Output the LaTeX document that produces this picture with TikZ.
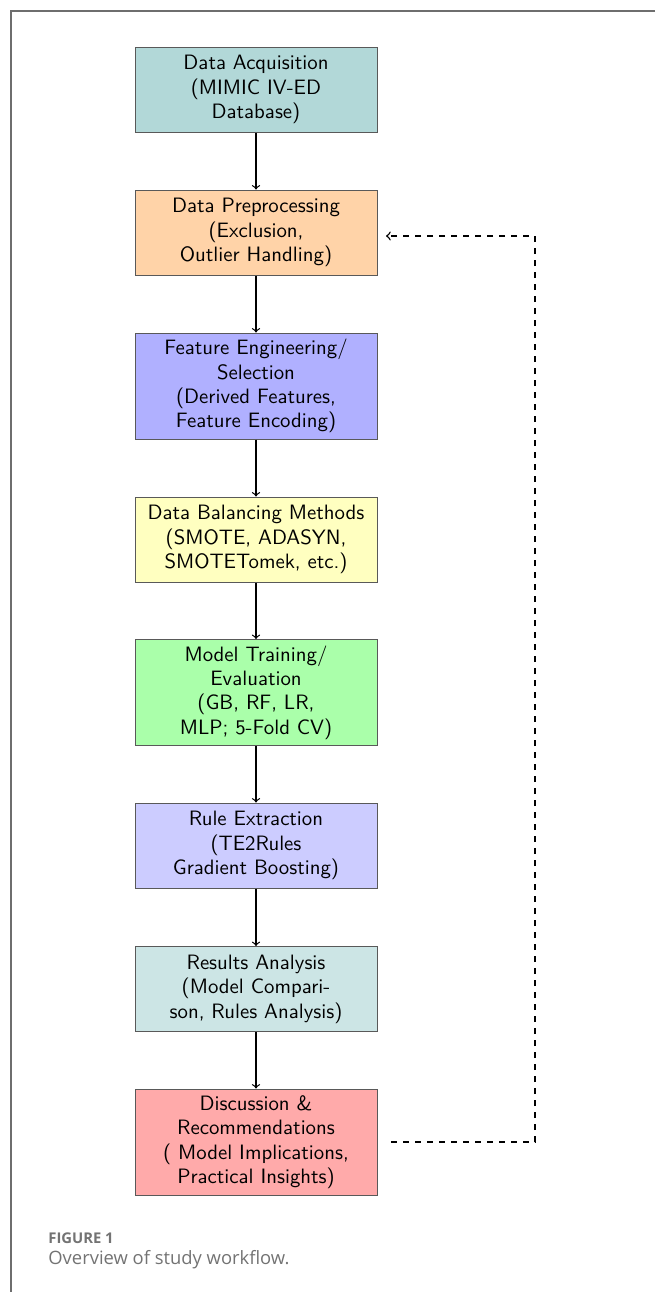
\documentclass[tikz,border=0pt]{standalone}
\usepackage{fontspec}
\usepackage{tikz}
\newfontfamily\capfont{Open Sans}
\definecolor{acqfill}{RGB}{178,216,216}
\definecolor{prepfill}{RGB}{255,211,168}
\definecolor{featfill}{RGB}{176,176,255}
\definecolor{balfill}{RGB}{255,255,192}
\definecolor{trainfill}{RGB}{170,255,170}
\definecolor{rulefill}{RGB}{204,204,255}
\definecolor{resfill}{RGB}{204,229,229}
\definecolor{discfill}{RGB}{255,170,170}
\definecolor{framegray}{RGB}{110,110,110}
\definecolor{capgray}{RGB}{115,115,115}

\begin{document}
\begin{tikzpicture}[x=0.5pt,y=-0.5pt,
  stepbox/.style={draw=black!65,line width=0.5pt,minimum width=121pt,inner sep=0pt,
    align=center,font=\sffamily\fontsize{10.4}{12.2}\selectfont},
  flow/.style={->,line width=0.6pt},
  loop/.style={->,dashed,line width=0.7pt}]
\useasboundingbox (0,0) rectangle (655,1292);
% frame:
\path[draw=framegray,line width=0.6pt] (655,11) -- (11,11) -- (11,1292);
% steps:
\node[stepbox,fill=acqfill,minimum height=42.5pt] (acq) at (256,89.5)
  {Data Acquisition\\(MIMIC IV-ED\\Database)};
\node[stepbox,fill=prepfill,minimum height=42.5pt] (prep) at (256,232.5)
  {Data Preprocessing\\(Exclusion,\\Outlier Handling)};
\node[stepbox,fill=featfill,minimum height=53pt] (feat) at (256,386)
  {Feature Engineering/\\Selection\\(Derived Features,\\Feature Encoding)};
\node[stepbox,fill=balfill,minimum height=42.5pt] (bal) at (256,539.5)
  {Data Balancing Methods\\(SMOTE, ADASYN,\\SMOTETomek, etc.)};
\node[stepbox,fill=trainfill,minimum height=53pt] (train) at (256,692.5)
  {Model Training/\\Evaluation\\(GB, RF, LR,\\MLP; 5-Fold CV)};
\node[stepbox,fill=rulefill,minimum height=42.5pt] (rule) at (256,845.5)
  {Rule Extraction\\(TE2Rules\\Gradient Boosting)};
\node[stepbox,fill=resfill,minimum height=42.5pt] (res) at (256,989)
  {Results Analysis\\(Model Compari-\\son, Rules Analysis)};
\node[stepbox,fill=discfill,minimum height=53pt] (disc) at (256,1142)
  {Discussion \&\\Recommendations\\( Model Implications,\\Practical Insights)};
% arrows:
\draw[flow] (acq) -- (prep);
\draw[flow] (prep) -- (feat);
\draw[flow] (feat) -- (bal);
\draw[flow] (bal) -- (train);
\draw[flow] (train) -- (rule);
\draw[flow] (rule) -- (res);
\draw[flow] (res) -- (disc);
% feedback loop:
\coordinate (loopstart) at (391,1142);
\coordinate (loopdown) at (535,1142);
\coordinate (loopup) at (535,236);
\coordinate (loopend) at (386,236);
\draw[loop] (loopstart) -- (loopdown) -- (loopup) -- (loopend);
% caption:
\node[anchor=base west,inner sep=0pt,text=capgray,font=\capfont\bfseries\fontsize{7.4}{8}\selectfont]
  (figlabel) at (48,1243) {FIGURE 1};
\node[anchor=base west,inner sep=0pt,text=capgray,font=\capfont\fontsize{9.2}{11}\selectfont]
  (figtext) at (48,1264) {Overview of study workflow.};
\end{tikzpicture}
\end{document}
